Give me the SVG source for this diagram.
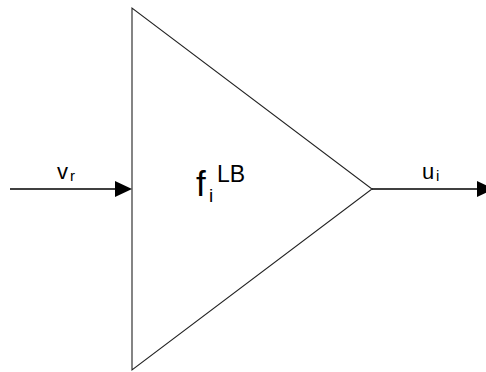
<svg xmlns="http://www.w3.org/2000/svg" width="486" height="372" viewBox="0 0 486 372">
<defs>
<style>
.edge{stroke:#000;stroke-width:1.3;fill:none}
.head{fill:#000;stroke:none}
.shape{fill:#fff;stroke:#222;stroke-width:1.1}
text{font-family:"Liberation Sans",Arial,sans-serif;fill:#000}
</style>
</defs>
<rect width="486" height="372" fill="#fff"/>
<g id="amplifier">
<polygon class="shape" points="132,8 132,370 372,189"/>
<text x="196" y="196" font-size="35">f<tspan x="209" y="202" font-size="19">i</tspan><tspan x="217" y="182" font-size="23">LB</tspan></text>
</g>
<g id="connectors">
<g id="input">
<line class="edge" x1="10" y1="189" x2="117" y2="189"/>
<polygon class="head" points="115,181 132,189 115,197"/>
<text x="57" y="179" font-size="22">v<tspan x="70" y="181" font-size="15">r</tspan></text>
</g>
<g id="output">
<line class="edge" x1="372" y1="189" x2="480" y2="189"/>
<polygon class="head" points="477,181 494,189 477,197"/>
<text x="422" y="179" font-size="22">u<tspan x="436" y="181" font-size="15">i</tspan></text>
</g>
</g>
</svg>
